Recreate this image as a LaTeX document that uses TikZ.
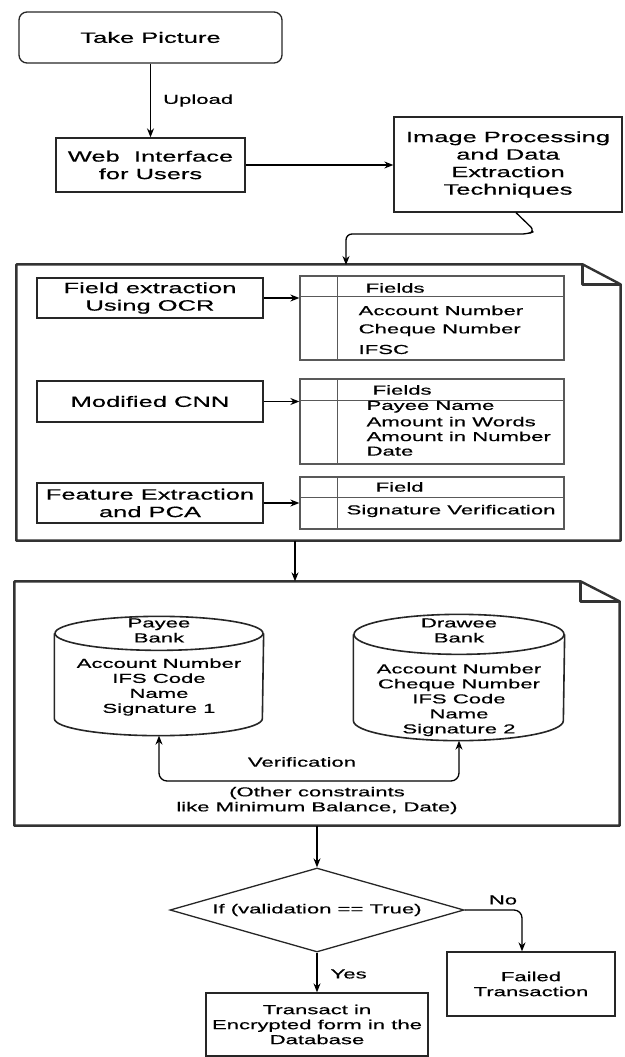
\documentclass[tikz,border=0pt]{standalone}
\usepackage{fontspec}
\newfontfamily\widesans[FakeStretch=1.7, FakeBold=0.5]{Liberation Sans}
\usetikzlibrary{shapes.geometric,arrows.meta}

\tikzset{
  smalltxt/.style={font=\widesans\fontsize{13}{15}\selectfont, inner sep=0pt, align=center},
  bigtxt/.style={font=\widesans\fontsize{15}{17.5}\selectfont, inner sep=0pt, align=center},
  procbox/.style={draw=black!85, line width=1.3pt},
  notebox/.style={draw=black!80, line width=2.4pt, line join=round},
  tbl/.style={draw=black!65, line width=1.3pt},
  dbase/.style={draw=black!85, line width=1.6pt},
}

\begin{document}
\begin{tikzpicture}[x=1pt, y=-1pt, >={Stealth[length=9pt,width=7pt]}, line width=1.3pt]
  \useasboundingbox (0,0) rectangle (624,1057);

  % upload and processing
  \node[procbox, bigtxt, rounded corners=8pt, minimum width=263pt, minimum height=51pt] (take) at (150.5,37.5) {Take Picture};
  \node[procbox, bigtxt, minimum width=189pt, minimum height=54pt] (web) at (150.5,165) {Web~~Interface\\for Users};
  \node[procbox, bigtxt, minimum width=228pt, minimum height=95pt] (imgp) at (508,164.5) {Image Processing\\and Data\\Extraction\\Techniques};

  \draw[->] (take) -- (web) node[smalltxt, pos=0.5, anchor=west, xshift=12pt] (upl) {Upload};
  \draw[->] (web.east) -- (web.east -| imgp.west);

  % first note: extraction
  \node[minimum width=603pt, minimum height=275pt] (frame1) at (318.5,402.5) {};
  \draw[notebox] (frame1.north west) -- ([xshift=-38pt]frame1.north east) -- ([yshift=-20pt]frame1.north east)
    -- (frame1.south east) -- (frame1.south west) -- cycle;
  \draw[notebox] ([xshift=-38pt]frame1.north east) -- ([xshift=-38pt,yshift=-20pt]frame1.north east) -- ([yshift=-20pt]frame1.north east);

  \coordinate (f1in) at (346,265);
  \draw[->, rounded corners=6pt] ([xshift=8pt]imgp.south) -- (535,231) -- (528,234) -- (346,234) -- (f1in);

  \node[procbox, bigtxt, minimum width=226pt, minimum height=40pt] (ocr) at (150,298) {Field extraction\\Using OCR};
  \node[procbox, bigtxt, minimum width=226pt, minimum height=41pt] (cnn) at (150,401.5) {Modified CNN};
  \node[procbox, bigtxt, minimum width=226pt, minimum height=40pt] (pca) at (150,503) {Feature Extraction\\and PCA};

  \node[tbl, minimum width=264pt, minimum height=84pt] (tab1) at (432,318) {};
  \node[tbl, minimum width=264pt, minimum height=85pt] (tab2) at (432,421.5) {};
  \node[tbl, minimum width=264pt, minimum height=52pt] (tab3) at (432,503) {};
  \foreach \t/\h in {tab1/-21pt, tab2/-22pt, tab3/-21pt} {
    \draw[tbl] ([xshift=38pt]\t.north west) -- ([xshift=38pt]\t.south west);
    \draw[tbl] ([yshift=\h]\t.north west) -- ([yshift=\h]\t.north east);
  }

  \draw[->] (ocr) -- (ocr -| tab1.west);
  \draw[->] (cnn) -- (cnn -| tab2.west);
  \draw[->] (pca) -- (pca -| tab3.west);

  \node[smalltxt, anchor=west] (fh1) at (365,288) {Fields};
  \foreach \t [count=\i] in {Account Number, Cheque Number, IFSC}
    \node[smalltxt, anchor=west] (fa\i) at (358, {291+19.5*\i}) {\t};
  \node[smalltxt, anchor=west] (fh2) at (372,390) {Fields};
  \foreach \t [count=\i] in {Payee Name, Amount in Words, Amount in Number, Date}
    \node[smalltxt, anchor=west] (fb\i) at (366, {392+14.8*\i}) {\t};
  \node[smalltxt, anchor=west] (fh3) at (375,487) {Field};
  \node[smalltxt, anchor=west] (fc1) at (346,511) {Signature Verification};

  % second note: verification
  \node[minimum width=604pt, minimum height=243pt] (frame2) at (317,703.5) {};
  \draw[notebox] (frame2.north west) -- ([xshift=-39pt]frame2.north east) -- ([yshift=-20pt]frame2.north east)
    -- (frame2.south east) -- (frame2.south west) -- cycle;
  \draw[notebox] ([xshift=-39pt]frame2.north east) -- ([xshift=-39pt,yshift=-20pt]frame2.north east) -- ([yshift=-20pt]frame2.north east);

  \draw[->] ([xshift=-23.5pt]frame1.south) -- ([xshift=-22pt]frame2.north);

  \node[minimum width=208pt, minimum height=118pt] (pay) at (159,676) {};
  \node[minimum width=210pt, minimum height=125pt] (drw) at (459,677.5) {};
  \foreach \c/\rx/\ry in {pay/104pt/17pt, drw/105pt/20pt} {
    \draw[dbase] ([yshift=-\ry]\c.north) ellipse [x radius=\rx, y radius=\ry];
    \draw[dbase] ([yshift=-\ry]\c.north west) -- ([yshift=\ry]\c.south west)
      arc [start angle=180, end angle=360, x radius=\rx, y radius=\ry] -- ([yshift=-\ry]\c.north east);
  }
  \node[smalltxt] (payh) at (159,630.5) {Payee\\Bank};
  \node[smalltxt] (payb) at (159,687) {Account Number\\IFS Code\\Name\\Signature 1};
  \node[smalltxt] (drwh) at (459,630.5) {Drawee\\Bank};
  \node[smalltxt] (drwb) at (459,700) {Account Number\\Cheque Number\\IFS Code\\Name\\Signature 2};

  \coordinate (vlow) at (310,781);
  \draw[<->, rounded corners=8pt] (pay.south) -- (pay.south |- vlow) -- (drw.south |- vlow) -- (drw.south);
  \node[smalltxt] (verif) at (302,762) {Verification};
  \node[smalltxt] (cons) at (317,800.5) {(Other constraints\\like Minimum Balance, Date)};

  % decision
  \node[diamond, procbox, smalltxt, aspect=3.5, minimum width=294pt, minimum height=84pt] (dec) at (317,910) {If (validation == True)};
  \node[procbox, smalltxt, minimum width=168pt, minimum height=64pt] (fail) at (531,984) {Failed\\Transaction};
  \node[procbox, smalltxt, minimum width=222pt, minimum height=63pt] (trans) at (317,1024.5) {Transact in\\Encrypted form in the\\Database};

  \draw[->] (frame2) -- (dec);
  \draw[->, rounded corners=8pt] (dec.east) -| ([xshift=-9pt]fail.north);
  \node[smalltxt] (no) at (503,900) {No};
  \draw[->] (dec.south) -- (trans.north);
  \node[smalltxt, anchor=west] (yes) at (330,974) {Yes};
\end{tikzpicture}
\end{document}
